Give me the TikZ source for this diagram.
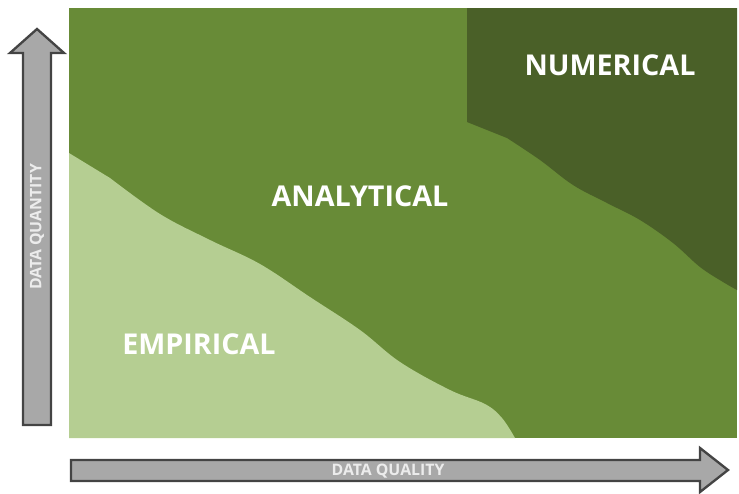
\documentclass[tikz,border=0pt]{standalone}
\usepackage{fontspec}
\setsansfont{Open Sans}
\usepackage{tikz}
\usetikzlibrary{positioning}
\definecolor{EmpiricalGreen}{RGB}{181, 206, 146}
\definecolor{AnalyticGreen}{RGB}{104, 139, 55}
\definecolor{NumericGreen}{RGB}{74, 96, 40}
\definecolor{ArrowGray}{RGB}{168, 168, 168}
\definecolor{ArrowEdge}{RGB}{68, 68, 68}
\definecolor{AxisText}{RGB}{236, 236, 236}
\tikzset{
  region/.style={draw=none},
  axisarrow/.style={fill=ArrowGray, draw=ArrowEdge, line width=2pt,
    line join=miter},
  regionlabel/.style={text=white, inner sep=0pt,
    font=\sffamily\bfseries\fontsize{24.5}{28}\selectfont},
  axislabel/.style={text=AxisText, inner sep=0pt,
    font=\sffamily\bfseries\fontsize{13.5}{16}\selectfont},
}
\begin{document}
\begin{tikzpicture}[x=0.03cm, y=-0.03cm]
  \useasboundingbox (0,0) rectangle (739,493);
  % regions
  \fill[region, AnalyticGreen] (69,8) rectangle (737,438);
  \fill[region, NumericGreen] (467,8) -- (467,122)
    -- plot[smooth, tension=0.6] coordinates {(507,138) (540,160)
      (573,185) (607,203) (640,220) (673,243) (700,267) (723,282) (737,290)}
    -- (737,8) -- cycle;
  \fill[region, EmpiricalGreen] (69,438) -- (69,153)
    -- plot[smooth, tension=0.6] coordinates {(110,178) (160,214)
      (210,240) (260,264) (310,297) (360,330) (400,362) (450,390)
      (485,404) (502,418) (515,438)}
    -- cycle;
  \node[regionlabel] (num) at (610,65) {NUMERICAL};
  \node[regionlabel] (ana) at (360,196) {ANALYTICAL};
  \node[regionlabel] (emp) at (199,344) {EMPIRICAL};
  % axes
  \draw[axisarrow] (23,425) -- (23,53) -- (10,53) -- (37,29) -- (64,53)
    -- (51,53) -- (51,425) -- cycle;
  \draw[axisarrow] (71,460) -- (700,460) -- (700,448) -- (728,470)
    -- (700,492) -- (700,481) -- (71,481) -- cycle;
  \node[axislabel, rotate=90] (quantity) at (37,227) {DATA QUANTITY};
  \node[axislabel] (quality) at (388,471) {DATA QUALITY};
\end{tikzpicture}
\end{document}
